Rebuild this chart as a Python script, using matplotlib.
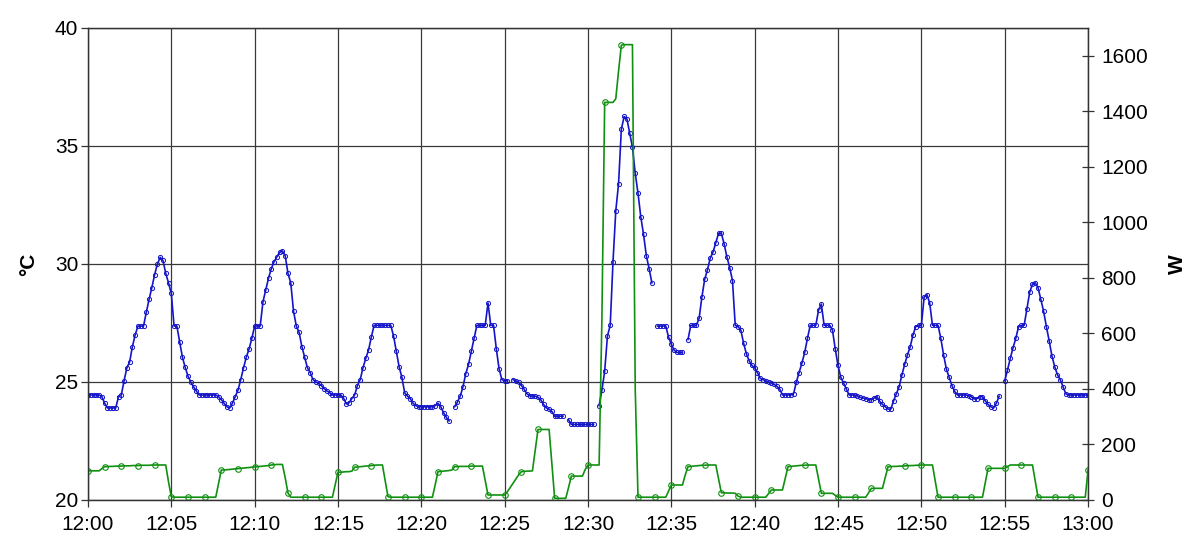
import numpy as np
import matplotlib
matplotlib.use("Agg")
from matplotlib import pyplot as plt

nan = np.nan

# temperature in degC, one reading every 10 s from 12:00 to 13:00 (one row per minute)
temp = [
    24.45, 24.45, 24.45, 24.45, 24.45, 24.38,  # 12:00
    24.1, 23.9, 23.9, 23.9, 23.9, 24.38,
    24.45, 25.05, 25.6, 25.85, 26.5, 27.0,
    27.37, 27.37, 27.37, 27.95, 28.5, 29.0,
    29.55, 30.0, 30.28, 30.15, 29.6, 29.2,
    28.75, 27.37, 27.37, 26.7, 26.05, 25.62,  # 12:05
    25.25, 25.0, 24.8, 24.62, 24.45, 24.45,
    24.45, 24.45, 24.45, 24.45, 24.45, 24.38,
    24.25, 24.1, 23.95, 23.9, 24.1, 24.38,
    24.65, 25.1, 25.6, 26.05, 26.4, 26.85,
    27.37, 27.37, 27.37, 28.4, 28.9, 29.4,  # 12:10
    29.8, 30.1, 30.3, 30.5, 30.55, 30.35,
    29.6, 29.2, 28.0, 27.37, 27.1, 26.5,
    26.05, 25.6, 25.4, 25.1, 25.0, 24.95,
    24.85, 24.72, 24.62, 24.55, 24.45, 24.45,
    24.45, 24.45, 24.32, 24.07, 24.12, 24.3,  # 12:15
    24.45, 24.85, 25.1, 25.6, 26.0, 26.35,
    26.9, 27.4, 27.4, 27.4, 27.4, 27.4,
    27.4, 27.4, 26.95, 26.3, 25.65, 25.2,
    24.55, 24.4, 24.3, 24.1, 24.0, 23.95,
    23.95, 23.95, 23.95, 23.95, 23.95, 24.0,  # 12:20
    24.1, 23.95, 23.7, 23.5, 23.35, nan,
    23.95, 24.15, 24.4, 24.8, 25.35, 25.75,
    26.3, 26.85, 27.4, 27.4, 27.4, 27.4,
    28.35, 27.4, 27.4, 26.4, 25.55, 25.1,
    25.05, 25.05, nan, 25.1, 25.05, 25.0,  # 12:25
    24.85, 24.7, 24.5, 24.42, 24.4, 24.4,
    24.35, 24.25, 24.05, 23.9, 23.85, 23.75,
    23.55, 23.55, 23.55, 23.55, nan, 23.4,
    23.2, 23.2, 23.2, 23.2, 23.2, 23.2,
    23.2, 23.2, 23.2, nan, 24.0, 24.65,  # 12:30
    25.45, 26.95, 27.4, 30.1, 32.25, 33.4,
    35.7, 36.25, 36.15, 35.55, 34.95, 33.85,
    33.0, 32.0, 31.25, 30.35, 29.8, 29.2,
    nan, 27.37, 27.37, 27.37, 27.37, 26.9,
    26.6, 26.35, 26.25, 26.25, 26.25, nan,  # 12:35
    26.8, 27.4, 27.4, 27.4, 27.7, 28.6,
    29.35, 29.75, 30.25, 30.5, 30.9, 31.3,
    31.3, 30.85, 30.3, 29.85, 29.3, 27.4,
    27.35, 27.2, 26.65, 26.2, 25.9, 25.7,
    25.6, 25.4, 25.15, 25.1, 25.05, 25.0,  # 12:40
    24.95, 24.9, 24.82, 24.7, 24.45, 24.45,
    24.45, 24.45, 24.5, 25.0, 25.4, 25.8,
    26.25, 26.85, 27.4, 27.4, 27.4, 28.05,
    28.3, 27.4, 27.4, 27.4, 27.2, 26.4,
    25.7, 25.2, 24.95, 24.7, 24.45, 24.45,  # 12:45
    24.45, 24.4, 24.35, 24.32, 24.3, 24.25,
    24.25, 24.32, 24.38, 24.18, 24.05, 23.95,
    23.85, 23.85, 24.2, 24.5, 24.8, 25.3,
    25.75, 26.15, 26.5, 27.0, 27.35, 27.4,
    27.4, 28.6, 28.7, 28.35, 27.4, 27.4,  # 12:50
    27.4, 26.85, 26.15, 25.55, 25.2, 24.85,
    24.6, 24.45, 24.45, 24.45, 24.45, 24.42,
    24.38, 24.28, 24.3, 24.38, 24.38, 24.2,
    24.05, 23.95, 23.9, 24.1, 24.4, nan,
    25.05, 25.5, 26.0, 26.45, 26.85, 27.35,  # 12:55
    27.4, 27.4, 28.1, 28.8, 29.15, 29.2,
    29.0, 28.5, 28.0, 27.35, 26.75, 26.1,
    25.65, 25.3, 25.1, 24.8, 24.5, 24.45,
    24.45, 24.45, 24.45, 24.45, 24.45, 24.45,
    24.45,  # 13:00
]

# power in W, same 10 s readings
power = [
    105, 105, 105, 105, 105, 113,  # 12:00
    120, 120, 121, 121, 122, 122,
    122, 123, 123, 123, 124, 124,
    124, 125, 125, 125, 125, 126,
    126, 126, 126, 126, 126, 65,
    12, 10, 10, 10, 10, 10,  # 12:05
    10, 10, 10, 10, 10, 10,
    10, 10, 10, 10, 10, 60,
    108, 108, 109, 110, 111, 112,
    113, 114, 115, 116, 117, 118,
    119, 120, 121, 122, 123, 124,  # 12:10
    126, 127, 128, 128, 128, 80,
    25, 10, 10, 10, 10, 10,
    10, 10, 10, 10, 10, 10,
    10, 10, 10, 10, 10, 55,
    100, 100, 101, 102, 102, 104,  # 12:15
    118, 119, 120, 121, 122, 123,
    124, 125, 126, 126, 126, 70,
    12, 10, 10, 10, 10, 10,
    10, 10, 10, 10, 10, 10,
    10, 10, 10, 10, 10, 55,  # 12:20
    102, 103, 104, 105, 106, 108,
    120, 120, 121, 121, 121, 121,
    122, 122, 122, 122, 122, 70,
    18, 18, 18, 18, 18, 18,
    18, 30, 45, 60, 75, 90,  # 12:25
    102, 103, 104, 104, 105, 180,
    254, 254, 254, 254, 254, 130,
    6, 6, 6, 6, 6, 45,
    86, 86, 86, 86, 86, 110,
    126, 126, 126, 126, 126, 650,  # 12:30
    1432, 1432, 1432, 1432, 1445, 1545,
    1638, 1640, 1640, 1640, 1640, 400,
    10, 10, 10, 10, 10, 10,
    10, 10, 10, 10, 10, 32,
    54, 54, 54, 54, 54, 90,  # 12:35
    120, 121, 122, 123, 124, 125,
    125, 126, 126, 126, 126, 75,
    26, 26, 25, 25, 25, 24,
    14, 10, 10, 10, 10, 10,
    10, 10, 10, 10, 10, 23,  # 12:40
    36, 36, 36, 36, 36, 78,
    120, 121, 122, 123, 124, 125,
    125, 126, 126, 126, 126, 75,
    24, 24, 24, 24, 24, 17,
    10, 10, 10, 10, 10, 10,  # 12:45
    10, 10, 10, 10, 10, 26,
    42, 42, 42, 42, 42, 81,
    120, 120, 121, 121, 122, 122,
    123, 123, 124, 124, 125, 125,
    126, 126, 126, 126, 126, 68,  # 12:50
    10, 10, 10, 10, 10, 10,
    10, 10, 10, 10, 10, 10,
    10, 10, 10, 10, 10, 62,
    114, 114, 114, 114, 114, 114,
    114, 120, 126, 126, 126, 126,  # 12:55
    126, 126, 126, 126, 126, 68,
    10, 10, 10, 10, 10, 10,
    10, 10, 10, 10, 10, 10,
    10, 10, 10, 10, 10, 10,
    108,  # 13:00
]

minutes = np.arange(len(temp)) / 6.0
tick_minutes = list(range(0, 61, 5))
tick_labels = ["12:00", "12:05", "12:10", "12:15", "12:20", "12:25", "12:30",
               "12:35", "12:40", "12:45", "12:50", "12:55", "13:00"]

plt.rcParams['font.family'] = ['Liberation Sans', 'DejaVu Sans']

fig = plt.figure(figsize=(12, 5.54), dpi=100)
ax = fig.add_axes([0.0733, 0.0975, 0.8334, 0.852])
ax2 = ax.twinx()

blue = '#1414c8'
green = '#109010'

ax.plot(minutes, temp, color=blue, lw=1.2, marker='o', ms=3,
        mfc='none', mec=blue, mew=0.7)
ax2.plot(minutes, power, color=green, lw=1.2, marker='o', ms=4, markevery=6,
         mfc='none', mec=green, mew=0.8)

ax.set_xlim(0, 60)
ax.set_ylim(20, 40)
ax2.set_ylim(0, 1700)
ax.set_xticks(tick_minutes)
ax.set_xticklabels(tick_labels)
ax.set_yticks([20, 25, 30, 35, 40])
ax2.set_yticks(range(0, 1601, 200))

ax.grid(True, color='#3a3a3a', lw=0.9)
ax.set_axisbelow(True)

for a in (ax, ax2):
    for s in a.spines.values():
        s.set_color('#333333')
        s.set_linewidth(0.9)

ax.tick_params(axis='both', labelsize=15, direction='out', length=5,
               width=0.9, color='#333333')
ax.tick_params(axis='y', pad=2)
ax.tick_params(axis='x', pad=6)
ax2.tick_params(axis='y', labelsize=15, direction='inout', length=9,
                width=0.9, color='#333333', pad=5)

ax.set_ylabel('°C', fontsize=15, fontweight='bold', labelpad=12)
ax2.set_ylabel('W', fontsize=15, fontweight='bold', labelpad=14)

fig.savefig('out.png', dpi=100)
